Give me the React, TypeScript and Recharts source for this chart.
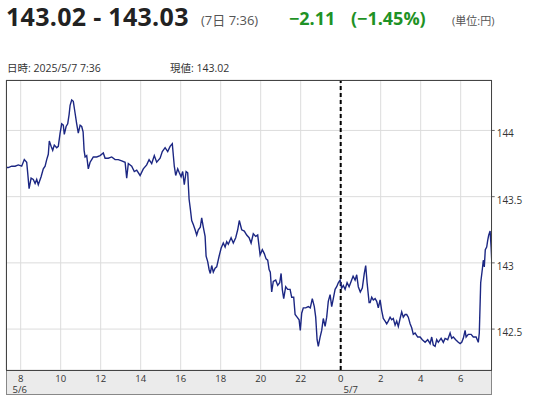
import React from 'react';
import { LineChart, Line, XAxis, YAxis, CartesianGrid, ReferenceLine } from 'recharts';

// hours counted from 5/6 0:00 (24 = 5/7 0:00)
const hours = [
  7.27, 7.38, 7.55, 7.72, 7.88, 8.05, 8.18, 8.3, 8.35, 8.42, 8.52, 8.63, 8.72, 8.8, 8.88, 9.02, 9.13, 9.22, 9.3, 9.38,
  9.43, 9.52, 9.6, 9.68, 9.8, 9.88, 9.97, 10.05, 10.13, 10.18, 10.27, 10.35, 10.42, 10.47, 10.55, 10.63, 10.72, 10.8, 10.88, 10.97,
  11.05, 11.12, 11.17, 11.22, 11.3, 11.38, 11.47, 11.55, 11.63, 11.8, 11.97, 12.13, 12.22, 12.38, 12.55, 12.72, 12.88, 13.05, 13.22, 13.3,
  13.38, 13.55, 13.68, 13.8, 13.97, 14.13, 14.3, 14.42, 14.55, 14.68, 14.8, 14.97, 15.08, 15.22, 15.35, 15.47, 15.58, 15.68, 15.75, 15.85,
  15.93, 16.02, 16.1, 16.18, 16.27, 16.35, 16.42, 16.48, 16.55, 16.63, 16.72, 16.8, 16.88, 16.98, 17.05, 17.13, 17.22, 17.27, 17.35, 17.42,
  17.48, 17.55, 17.63, 17.72, 17.8, 17.92, 18.02, 18.13, 18.22, 18.3, 18.38, 18.52, 18.63, 18.75, 18.85, 18.93, 19.05, 19.18, 19.3, 19.42,
  19.52, 19.63, 19.75, 19.85, 19.97, 20.08, 20.18, 20.27, 20.35, 20.42, 20.48, 20.55, 20.63, 20.75, 20.85, 20.95, 21.02, 21.08, 21.15, 21.25,
  21.35, 21.47, 21.55, 21.65, 21.72, 21.82, 21.92, 21.98, 22.05, 22.13, 22.25, 22.38, 22.48, 22.58, 22.68, 22.75, 22.82, 22.88, 22.97, 23.05,
  23.13, 23.22, 23.3, 23.38, 23.47, 23.55, 23.63, 23.72, 23.8, 23.88, 23.97, 24.05, 24.13, 24.22, 24.32, 24.42, 24.52, 24.62, 24.72, 24.8,
  24.88, 24.98, 25.08, 25.18, 25.25, 25.32, 25.42, 25.47, 25.55, 25.63, 25.72, 25.8, 25.88, 25.97, 26.05, 26.13, 26.22, 26.3, 26.38, 26.47,
  26.55, 26.63, 26.72, 26.8, 26.88, 26.97, 27.05, 27.13, 27.22, 27.3, 27.38, 27.47, 27.55, 27.63, 27.72, 27.85, 27.97, 28.08, 28.22, 28.35,
  28.47, 28.55, 28.63, 28.72, 28.8, 28.88, 29.02, 29.13, 29.22, 29.35, 29.47, 29.55, 29.63, 29.75, 29.88, 29.97, 30.05, 30.13, 30.22, 30.27,
  30.38, 30.52, 30.63, 30.77, 30.88, 30.93, 31.0, 31.08, 31.13, 31.18, 31.23, 31.3, 31.35, 31.4, 31.47, 31.52, 31.55,
];

const prices = [
  143.72, 143.72, 143.73, 143.73, 143.74, 143.73, 143.78, 143.76, 143.68, 143.56, 143.64, 143.63, 143.6, 143.63, 143.59, 143.65, 143.71, 143.73, 143.78, 143.82,
  143.92, 143.88, 143.85, 143.89, 143.87, 143.88, 143.98, 144.05, 144.04, 143.97, 144.03, 144.05, 144.12, 144.19, 144.23, 144.22, 144.13, 144.05, 143.98, 144.04,
  144.03, 143.99, 143.85, 143.8, 143.81, 143.71, 143.76, 143.78, 143.8, 143.8, 143.81, 143.83, 143.79, 143.79, 143.8, 143.78, 143.78, 143.77, 143.76, 143.64,
  143.75, 143.73, 143.69, 143.7, 143.66, 143.71, 143.74, 143.78, 143.75, 143.81, 143.76, 143.79, 143.84, 143.87, 143.84, 143.88, 143.9, 143.73, 143.66, 143.71,
  143.68, 143.65, 143.69, 143.59, 143.69, 143.68, 143.48, 143.41, 143.32, 143.29, 143.25, 143.21, 143.25, 143.27, 143.34, 143.27, 143.2, 143.05, 143.01, 142.95,
  142.92, 142.98, 142.93, 142.96, 142.97, 143.05, 143.11, 143.15, 143.12, 143.16, 143.14, 143.19, 143.15, 143.19, 143.25, 143.32, 143.25, 143.24, 143.21, 143.19,
  143.15, 143.22, 143.2, 143.21, 143.06, 143.1, 143.07, 143.03, 143.02, 142.95, 142.93, 142.78, 142.86, 142.87, 142.83, 142.85, 142.92, 142.8, 142.73, 142.82,
  142.8, 142.8, 142.74, 142.74, 142.61, 142.59, 142.57, 142.49, 142.62, 142.66, 142.66, 142.67, 142.66, 142.73, 142.67, 142.59, 142.42, 142.37, 142.44, 142.49,
  142.58, 142.52, 142.59, 142.71, 142.76, 142.67, 142.73, 142.8, 142.82, 142.85, 142.87, 142.81, 142.83, 142.8, 142.85, 142.82, 142.86, 142.9, 142.87, 142.91,
  142.82, 142.78, 142.81, 142.92, 142.98, 142.85, 142.7, 142.7, 142.74, 142.72, 142.73, 142.71, 142.66, 142.72, 142.64, 142.58, 142.56, 142.54, 142.56, 142.59,
  142.57, 142.58, 142.53, 142.56, 142.52, 142.58, 142.63, 142.59, 142.61, 142.61, 142.59, 142.54, 142.51, 142.46, 142.47, 142.44, 142.44, 142.42, 142.4, 142.42,
  142.39, 142.44, 142.38, 142.37, 142.42, 142.4, 142.43, 142.4, 142.43, 142.42, 142.47, 142.43, 142.44, 142.42, 142.4, 142.39, 142.4, 142.43, 142.49, 142.44,
  142.46, 142.46, 142.44, 142.44, 142.4, 142.47, 142.85, 142.95, 143.02, 142.97, 143.1, 143.12, 143.17, 143.21, 143.24, 143.12, 143.02,
];

const xTicks = [8, 10, 12, 14, 16, 18, 20, 22, 24, 26, 28, 30];
const yTicks = [142.5, 143, 143.5, 144];
const dateLabels: Record<number, string> = { 8: '5/6', 24: '5/7' };

const data = hours.map((h, i) => ({ h, v: prices[i] }));

const FONT = '"Open Sans", "Noto Sans CJK JP", sans-serif';

const XTick = (props: any) => {
  const { x, y, payload } = props;
  const h = payload.value;
  return (
    <g>
      <text x={x} y={y + 12} textAnchor="middle" fontSize={9.5} fill="#333" fontFamily={FONT}>
        {h % 24}
      </text>
      {dateLabels[h] && (
        <text x={h === 24 ? x + 10 : x - 1} y={y + 22.5} textAnchor="middle" fontSize={9.5} fill="#333" fontFamily={FONT}>
          {dateLabels[h]}
        </text>
      )}
    </g>
  );
};

const YTick = (props: any) => {
  const { x, y, payload } = props;
  return (
    <text x={x} y={y + 7} textAnchor="start" fontSize={10} fill="#333" fontFamily={FONT}>
      {payload.value}
    </text>
  );
};

export default function App() {
  return (
    <div style={{ position: 'absolute', left: 0, top: 0, width: 534, height: 400, background: '#fff', fontFamily: FONT }}>
      <svg width={534} height={78} style={{ position: 'absolute', left: 0, top: 0, overflow: 'visible' }}>
        <text x={6} y={26} fontSize={25} fontWeight={700} fill="#222" fontFamily={FONT} letterSpacing={0.3}>143.02 - 143.03</text>
        <text x={201} y={25} fontSize={13} fill="#555" fontFamily={FONT}>(7日 7:36)</text>
        <text x={289} y={25} fontSize={18} fontWeight={700} fill="#1f9226" fontFamily={FONT}>−2.11</text>
        <text x={351} y={25} fontSize={18} fontWeight={700} fill="#1f9226" fontFamily={FONT}>(−1.45%)</text>
        <text x={452} y={25} fontSize={11} fill="#555" fontFamily={FONT}>(単位:円)</text>
        <text x={7} y={72} fontSize={10.5} fill="#333" fontFamily={FONT}>日時: 2025/5/7  7:36</text>
        <text x={170} y={72} fontSize={10.5} fill="#333" fontFamily={FONT}>現値: 143.02</text>
      </svg>
      <div
        style={{
          position: 'absolute', left: 6, top: 370, width: 486, height: 25, boxSizing: 'border-box',
          background: '#ebebeb', borderLeft: '1px solid #888', borderRight: '1px solid #888', borderBottom: '1px solid #888',
        }}
      />
      <div style={{ position: 'absolute', left: 0, top: 0 }}>
        <LineChart width={534} height={400} data={data} margin={{ top: 80, right: 0, left: 6, bottom: 0 }}>
          <CartesianGrid stroke="#dcdcdc" strokeWidth={1} />
          <XAxis
            dataKey="h"
            type="number"
            domain={[7.265, 31.55]}
            allowDataOverflow
            ticks={xTicks}
            interval={0}
            height={30}
            tickSize={0}
            tickMargin={0}
            axisLine={false}
            tickLine={false}
            tick={<XTick />}
          />
          <YAxis
            orientation="right"
            type="number"
            domain={[142.191, 144.381]}
            allowDataOverflow
            ticks={yTicks}
            interval={0}
            width={42.3}
            tickSize={3}
            tickMargin={2}
            axisLine={false}
            tickLine={{ stroke: '#666' }}
            tick={<YTick />}
          />
          <ReferenceLine x={24} stroke="#000" strokeWidth={2} strokeDasharray="4 3" />
          <Line
            type="linear"
            dataKey="v"
            stroke="#1c2783"
            strokeWidth={1.4}
            dot={false}
            isAnimationActive={false}
          />
        </LineChart>
      </div>
      <div
        style={{
          position: 'absolute', left: 6, top: 79.5, width: 486, height: 291, boxSizing: 'border-box',
          border: '1.5px solid #444', pointerEvents: 'none',
        }}
      />
    </div>
  );
}
